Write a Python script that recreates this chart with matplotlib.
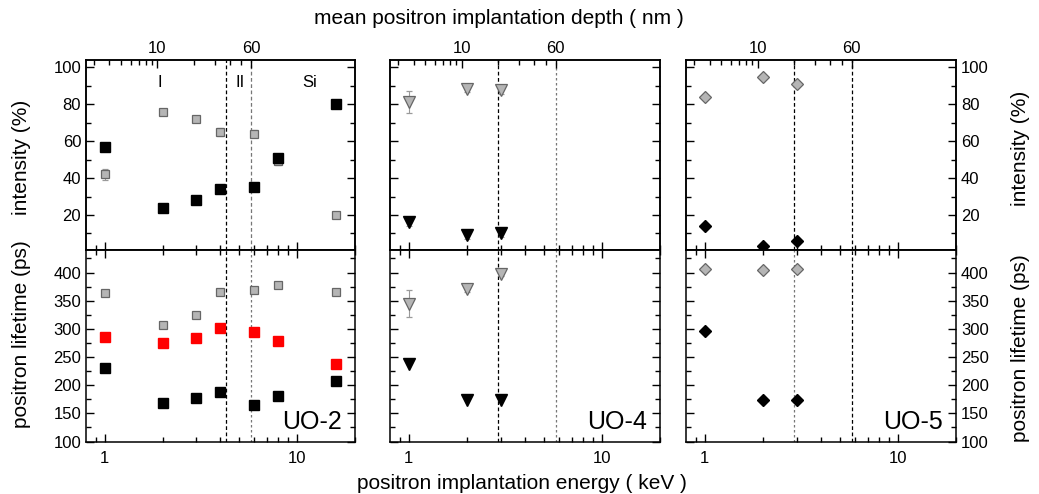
import numpy as np
import matplotlib
matplotlib.use("Agg")
import matplotlib.pyplot as plt
from matplotlib.ticker import FixedLocator, NullFormatter, FuncFormatter

plt.rcParams['font.family'] = ['Liberation Sans', 'DejaVu Sans']

# ---------------- data ----------------
# UO-2 (squares)
e_uo2 = [1, 2, 3, 4, 6, 8, 16]
i2_uo2 = [42, 76, 72, 65, 64, 49, 20]          # grey: long-lifetime intensity
i1_uo2 = [57, 24, 28, 34, 35, 51, 80]          # black: short-lifetime intensity
i2_err_uo2 = [3, 1.5, 1.5, 2, 2, 2, 1.5]
tau2_uo2 = [363, 306, 325, 365, 369, 377, 365]  # grey
tau_av_uo2 = [285, 274, 283, 301, 294, 278, 237]  # red: average lifetime
tau1_uo2 = [231, 169, 178, 187, 165, 181, 207]  # black
tau2_err_uo2 = [4, 5, 5, 5, 5, 5, 4]

# UO-4 (triangles)
e_uo4 = [1, 2, 3]
i2_uo4 = [81, 88.5, 87.5]
i2_err_uo4 = [6, 2, 2]
i1_uo4 = [16, 9, 10]
i1_err_uo4 = [2, 2, 2]
tau2_uo4 = [345, 371, 398]
tau2_err_uo4 = [24, 5, 5]
tau1_uo4 = [238, 174, 174]

# UO-5 (diamonds)
e_uo5 = [1, 2, 3]
i2_uo5 = [84, 95, 91]
i1_uo5 = [14, 3, 6]
tau2_uo5 = [407, 405, 407]
tau1_uo5 = [297, 174, 174]

# layer boundaries (mean depth, nm)
bounds_uo2 = [37, 60]
bounds_uo4 = [20, 60]
bounds_uo5 = [20, 60]

region_labels = ["I", "II", "Si"]
region_label_e = [1.93, 5.03, 11.6]
sample_names = ["UO-2", "UO-4", "UO-5"]
depth_major = [10, 60]
depth_minor = [3, 4, 5, 6, 7, 8, 9, 20, 30, 40, 50]

# Makhov mean implantation depth in UO2 (density 10.97 g/cm3)
RHO = 10.97


def e2z(E):
    return 40.0 / RHO * np.asarray(E, float) ** 1.6


def z2e(z):
    return (np.asarray(z, float) / (40.0 / RHO)) ** (1 / 1.6)


GREY_FC = '#b5b5b5'
GREY_EC = '#666666'
ERR_C = '#9a9a9a'

W, H = 1039, 494
fig = plt.figure(figsize=(W / 100, H / 100), dpi=100)

col_x = [(86, 355), (390, 660), (686, 956)]
top_y = (60, 250)
bot_y = (250, 441.5)


def axes_at(x, y):
    return fig.add_axes([x[0] / W, 1 - y[1] / H, (x[1] - x[0]) / W, (y[1] - y[0]) / H])


XLIM = (0.8, 20)
TICKFS = 12


def style_axes(ax):
    ax.set_xscale('log')
    ax.set_xlim(*XLIM)
    ax.xaxis.set_major_locator(FixedLocator([1, 10]))
    ax.xaxis.set_minor_locator(FixedLocator([0.9, 2, 3, 4, 5, 6, 7, 8, 9, 20]))
    ax.xaxis.set_minor_formatter(NullFormatter())
    ax.xaxis.set_major_formatter(FuncFormatter(lambda v, p: f"{v:g}"))
    ax.tick_params(which='both', direction='in', top=True, right=True,
                   left=True, bottom=True, labelsize=TICKFS, width=1.0)
    ax.tick_params(which='major', length=6)
    ax.tick_params(which='minor', length=3.5)
    ax.tick_params(axis='x', pad=7)
    for s in ax.spines.values():
        s.set_linewidth(1.1)


def boundaries(ax, bounds, styles):
    for b, (c, ls) in zip(bounds, styles):
        ax.axvline(z2e(b), color=c, ls=ls, lw=0.9, zorder=1)


grey_sq = dict(marker='s', ms=6.2, mfc=GREY_FC, mec=GREY_EC, mew=0.9, ls='none')
black_sq = dict(marker='s', ms=6.8, color='black', ls='none')
red_sq = dict(marker='s', ms=6.8, color='#ff0000', ls='none')
grey_tri = dict(marker='v', ms=8, mfc=GREY_FC, mec=GREY_EC, mew=0.9, ls='none')
black_tri = dict(marker='v', ms=8, color='black', ls='none')
grey_dia = dict(marker='D', ms=6.0, mfc=GREY_FC, mec=GREY_EC, mew=0.9, ls='none')
black_dia = dict(marker='D', ms=6.5, color='black', ls='none')
eb = dict(ecolor=ERR_C, elinewidth=0.8, capsize=2, capthick=0.8)

dash_k = ('black', (0, (3, 2)))
dash_g = ('#777777', (0, (3, 2)))
dot_g = ('#777777', (0, (2, 2)))

panels = []
for j in range(3):
    at = axes_at(col_x[j], top_y)
    ab = axes_at(col_x[j], bot_y)
    for ax in (at, ab):
        style_axes(ax)
    at.set_ylim(1, 104)
    at.yaxis.set_major_locator(FixedLocator([20, 40, 60, 80, 100]))
    at.yaxis.set_minor_locator(FixedLocator([10, 30, 50, 70, 90]))
    at.tick_params(axis='x', labelbottom=False, top=False)
    ab.set_ylim(100, 440)
    ab.yaxis.set_major_locator(FixedLocator([100, 150, 200, 250, 300, 350, 400]))
    ab.yaxis.set_minor_locator(FixedLocator([125, 175, 225, 275, 325, 375, 425]))
    # depth scale on top
    tw = at.twiny()
    tw.set_xscale('log')
    tw.set_xlim(*XLIM)
    tw.xaxis.set_major_locator(FixedLocator(z2e(depth_major)))
    tw.xaxis.set_minor_locator(FixedLocator(z2e(depth_minor)))
    tw.xaxis.set_major_formatter(FuncFormatter(lambda v, p: f"{e2z(v):.0f}"))
    tw.xaxis.set_minor_formatter(NullFormatter())
    tw.tick_params(which='both', direction='in', labelsize=TICKFS, width=1.0, pad=3)
    tw.tick_params(which='major', length=6)
    tw.tick_params(which='minor', length=3.5)
    for s in tw.spines.values():
        s.set_linewidth(1.1)
    if j == 0:
        at.tick_params(axis='y', labelleft=True, labelright=False)
        ab.tick_params(axis='y', labelleft=True, labelright=False)
    elif j == 1:
        at.tick_params(axis='y', labelleft=False, labelright=False)
        ab.tick_params(axis='y', labelleft=False, labelright=False)
    else:
        at.tick_params(axis='y', labelleft=False, labelright=True)
        ab.tick_params(axis='y', labelleft=False, labelright=True)
    panels.append((at, ab))

# ---- UO-2 ----
at, ab = panels[0]
boundaries(at, bounds_uo2, [dash_k, dash_g])
boundaries(ab, bounds_uo2, [dash_k, dot_g])
at.errorbar(e_uo2, i2_uo2, yerr=i2_err_uo2, **grey_sq, **eb, zorder=3)
at.plot(e_uo2, i1_uo2, **black_sq, zorder=4)
ab.errorbar(e_uo2, tau2_uo2, yerr=tau2_err_uo2, **grey_sq, **eb, zorder=3)
ab.plot(e_uo2, tau_av_uo2, **red_sq, zorder=4)
ab.plot(e_uo2, tau1_uo2, **black_sq, zorder=4)
for lbl, e in zip(region_labels, region_label_e):
    at.text(e, 92, lbl, ha='center', va='center', fontsize=12)

# ---- UO-4 ----
at, ab = panels[1]
boundaries(at, bounds_uo4, [dash_k, dot_g])
boundaries(ab, bounds_uo4, [dash_k, dot_g])
at.errorbar(e_uo4, i2_uo4, yerr=i2_err_uo4, **grey_tri, **eb, zorder=3)
at.errorbar(e_uo4, i1_uo4, yerr=i1_err_uo4, **black_tri, **eb, zorder=3)
ab.errorbar(e_uo4, tau2_uo4, yerr=tau2_err_uo4, **grey_tri, **eb, zorder=3)
ab.plot(e_uo4, tau1_uo4, **black_tri, zorder=4)

# ---- UO-5 ----
at, ab = panels[2]
boundaries(at, bounds_uo5, [dash_k, dash_k])
boundaries(ab, bounds_uo5, [dot_g, dash_k])
at.plot(e_uo5, i2_uo5, **grey_dia, zorder=3)
at.plot(e_uo5, i1_uo5, **black_dia, zorder=4)
ab.plot(e_uo5, tau2_uo5, **grey_dia, zorder=3)
ab.plot(e_uo5, tau1_uo5, **black_dia, zorder=4)

for (at, ab), name in zip(panels, sample_names):
    ab.text(0.952, 0.04, name, transform=ab.transAxes, ha='right', va='bottom',
            fontsize=18)

# axis titles
fig.text(499 / W, 1 - 19 / H, "mean positron implantation depth ( nm )",
         ha='center', va='center', fontsize=15)
fig.text(522 / W, 1 - 483 / H, "positron implantation energy ( keV )",
         ha='center', va='center', fontsize=15)
fig.text(22 / W, 1 - 157 / H, "intensity (%)", rotation=90,
         ha='center', va='center', fontsize=15)
fig.text(22 / W, 1 - 334 / H, "positron lifetime (ps)", rotation=90,
         ha='center', va='center', fontsize=15)
fig.text(1020 / W, 1 - 148 / H, "intensity (%)", rotation=90,
         ha='center', va='center', fontsize=15)
fig.text(1020 / W, 1 - 348 / H, "positron lifetime (ps)", rotation=90,
         ha='center', va='center', fontsize=15)

fig.savefig("out.png", dpi=100)
